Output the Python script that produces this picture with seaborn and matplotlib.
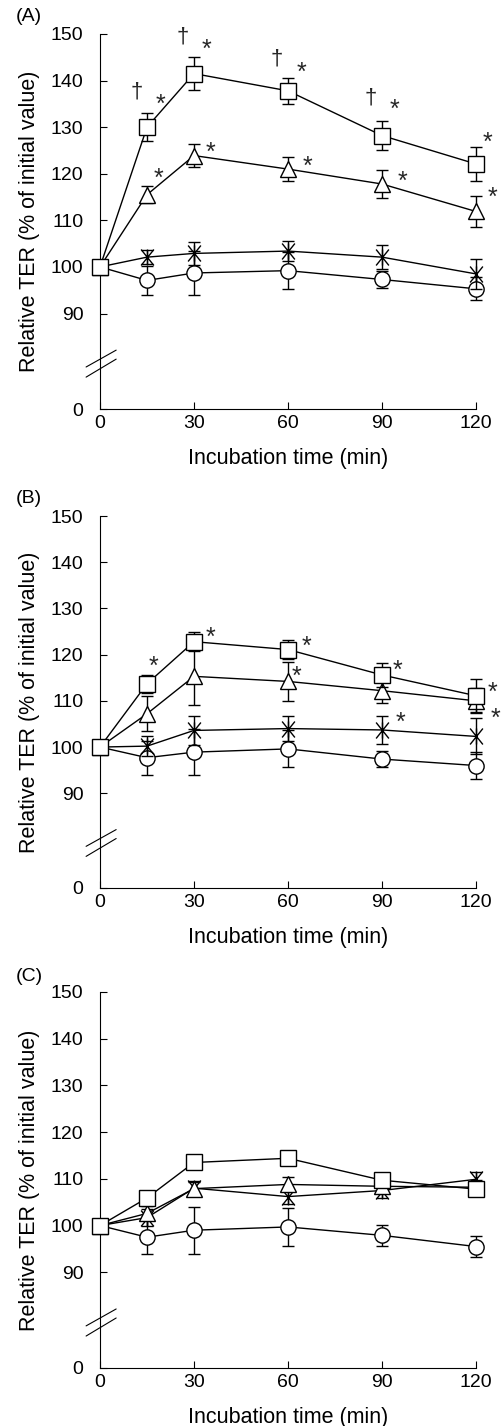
import numpy as np
import matplotlib
matplotlib.use("Agg")
import matplotlib.pyplot as plt
from matplotlib.path import Path
import seaborn as sns

sns.set_theme(style="ticks")
plt.rcParams['font.family'] = ['Liberation Sans', 'DejaVu Sans']

# sampling times (min)
times = [0, 15, 30, 60, 90, 120]

# Panel A
sq_A = [100, 130.0, 141.5, 137.8, 128.2, 122.1]
sq_A_err = [0, 3.0, 3.5, 2.8, 3.2, 3.7]
tri_A = [100, 115.5, 123.9, 121.0, 117.8, 111.9]
tri_A_err = [0, 1.8, 2.4, 2.6, 2.9, 3.3]
star_A = [100, 102.1, 102.9, 103.4, 102.1, 98.5]
star_A_err = [0, 1.5, 2.5, 2.2, 2.6, 3.3]
circ_A = [100, 97.1, 98.7, 99.2, 97.3, 95.3]
circ_A_err = [0, 3.2, 4.8, 3.9, 1.8, 2.5]

# Panel B
sq_B = [100, 113.7, 122.8, 121.1, 115.6, 111.1]
sq_B_err = [0, 2.0, 2.0, 2.0, 2.5, 3.6]
tri_B = [100, 107.2, 115.3, 114.2, 112.2, 110.0]
tri_B_err = [0, 3.8, 6.1, 4.3, 2.6, 2.7]
star_B = [100, 100.2, 103.6, 104.0, 103.7, 102.3]
star_B_err = [0, 2.1, 3.2, 2.7, 3.0, 3.9]
circ_B = [100, 97.7, 98.9, 99.6, 97.4, 96.0]
circ_B_err = [0, 3.7, 4.9, 4.0, 1.8, 3.0]

# Panel C
sq_C = [100, 105.9, 113.5, 114.4, 109.7, 107.8]
sq_C_err = [0, 1.5, 1.5, 1.5, 1.5, 1.5]
tri_C = [100, 102.6, 107.9, 108.8, 108.4, 108.2]
tri_C_err = [0, 1.5, 1.5, 1.5, 1.5, 1.5]
star_C = [100, 101.7, 108.0, 106.2, 107.5, 109.9]
star_C_err = [0, 1.8, 1.5, 1.5, 1.5, 1.5]
circ_C = [100, 97.5, 99.0, 99.7, 97.9, 95.5]
circ_C_err = [0, 3.6, 5.0, 4.1, 2.3, 2.2]

# significance marks: (series, time, symbol, dx px, dy px)
marks_A = [('sq', 15, '*', 13, 22), ('sq', 30, '*', 12, 24), ('sq', 60, '*', 13, 18),
           ('sq', 90, '*', 12, 26), ('sq', 120, '*', 11, 21),
           ('sq', 15, '†', -10, 35), ('sq', 30, '†', -11, 37), ('sq', 60, '†', -11, 32),
           ('sq', 90, '†', -11, 38),
           ('tri', 15, '*', 11, 16), ('tri', 30, '*', 16, 3), ('tri', 60, '*', 19, 2),
           ('tri', 90, '*', 20, 2), ('tri', 120, '*', 16, 14)]
marks_B = [('sq', 15, '*', 6, 17), ('sq', 30, '*', 16, 4), ('sq', 60, '*', 18, 3),
           ('tri', 60, '*', 8, 5), ('sq', 90, '*', 15, 4), ('star', 90, '*', 18, 7),
           ('sq', 120, '*', 16, 3), ('star', 120, '*', 19, 18)]
marks_C = []

# asterisk-like marker: X with a vertical bar
star_marker = Path([(0, -1), (0, 1), (-0.8, -1), (0.8, 1), (-0.8, 1), (0.8, -1)],
                   [Path.MOVETO, Path.LINETO] * 3)


def fwd(y):
    y = np.asarray(y, dtype=float)
    return np.where(y >= 90, y, 69.5 + y * 20.5 / 90)


def inv(u):
    u = np.asarray(u, dtype=float)
    return np.where(u >= 90, u, (u - 69.5) * 90 / 20.5)


def draw_panel(ax, data, marks):
    styles = {'circ': ('o', 11, 2), 'star': (star_marker, 11.5, 3),
              'tri': ('^', 11.5, 4), 'sq': ('s', 11, 5)}
    for key in ['circ', 'star', 'tri', 'sq']:
        vals, errs = data[key]
        mk, ms, z = styles[key]
        ax.errorbar(times, vals, yerr=errs, fmt='none', ecolor='black',
                    elinewidth=1, capsize=4, capthick=1, zorder=z - 0.1, clip_on=False)
        sns.lineplot(x=times, y=vals, ax=ax, color='black', linewidth=1,
                     marker=mk, markersize=ms, markerfacecolor='white',
                     markeredgecolor='black', markeredgewidth=1,
                     errorbar=None, zorder=z, clip_on=False)
    for key, t, sym, dx, dy in marks:
        v = data[key][0][times.index(t)]
        fs = 18 if sym == '*' else 16
        ax.annotate(sym, xy=(t, v), xytext=(dx * 0.72, dy * 0.72),
                    textcoords='offset points', ha='center', va='center',
                    fontsize=fs, annotation_clip=False)

    ax.set_yscale('function', functions=(fwd, inv))
    ax.set_xlim(0, 120)
    ax.set_ylim(0, 150)
    ax.set_xticks([0, 30, 60, 90, 120])
    ax.set_yticks([0, 90, 100, 110, 120, 130, 140, 150])
    ax.set_yticklabels(['0', '90', '100', '110', '120', '130', '140', '150'])
    ax.tick_params(axis='both', direction='in', length=5, width=0.8,
                   labelsize=14, color='black', labelcolor='black')
    ax.tick_params(axis='y', pad=12)
    ax.tick_params(axis='x', pad=4)
    sns.despine(ax=ax)
    for s in ['left', 'bottom']:
        ax.spines[s].set_linewidth(0.8)
        ax.spines[s].set_color('black')
    ax.set_xlabel('Incubation time (min)', fontsize=15.5, color='black')
    ax.set_ylabel('Relative TER (% of initial value)', fontsize=15.5, color='black')
    ax.xaxis.set_label_coords(0.5, -0.104)
    ax.yaxis.set_label_coords(-0.16, 0.5)
    # axis break marks
    for y0, y1 in [(0.112, 0.157), (0.085, 0.133)]:
        ax.plot([-0.037, 0.043], [y0, y1], transform=ax.transAxes,
                color='black', linewidth=0.8, clip_on=False)


fig = plt.figure(figsize=(5.02, 14.26), dpi=100)
W, H = 502, 1426
panels = [
    (409, 375, {'sq': (sq_A, sq_A_err), 'tri': (tri_A, tri_A_err),
                'star': (star_A, star_A_err), 'circ': (circ_A, circ_A_err)}, marks_A, '(A)', 8),
    (888, 372, {'sq': (sq_B, sq_B_err), 'tri': (tri_B, tri_B_err),
                'star': (star_B, star_B_err), 'circ': (circ_B, circ_B_err)}, marks_B, '(B)', 490),
    (1368, 376, {'sq': (sq_C, sq_C_err), 'tri': (tri_C, tri_C_err),
                 'star': (star_C, star_C_err), 'circ': (circ_C, circ_C_err)}, marks_C, '(C)', 968),
]
for bottom_px, h_px, data, marks, letter, top_px in panels:
    ax = fig.add_axes([100 / W, 1 - bottom_px / H, 376 / W, h_px / H])
    ax.set_facecolor('white')
    draw_panel(ax, data, marks)
    fig.text(16 / W, 1 - top_px / H, letter, fontsize=14, ha='left', va='top',
             color='black')

fig.savefig('out.png', dpi=100, facecolor='white')
